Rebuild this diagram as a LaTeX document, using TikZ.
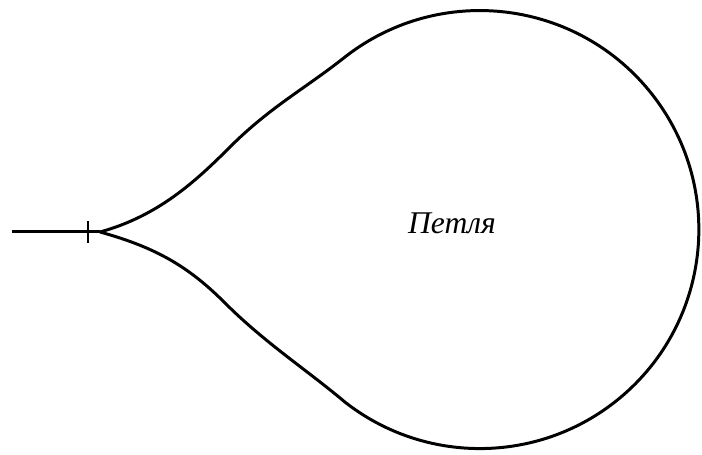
\documentclass[tikz,border=0pt]{standalone}
\usepackage{fontspec}
\setmainfont{Liberation Serif}
\begin{document}
\begin{tikzpicture}[x=0.02cm, y=0.02cm, line width=1.7pt]
  \useasboundingbox (0,0) rectangle (702,455);
  \coordinate (start) at (12,223);
  \coordinate (tip) at (100,223);
  \coordinate (up) at (230,308);
  \coordinate (upjoin) at (345,398);
  \coordinate (low) at (225,152);
  \draw (start) -- (tip);
  \draw[line width=1.2pt] (88,212) -- (88,234);
  % upper side, circle, lower side
  \draw (tip) .. controls (158,239) and (195,273) .. (up)
    .. controls (270,348) and (306,367) .. (upjoin)
    arc[start angle=128, end angle=-128, radius=219]
    coordinate (lowjoin)
    .. controls (307,85) and (265,112) .. (low)
    .. controls (190,187) and (158,207) .. (tip);
  \node[font=\fontsize{18}{21}\selectfont\itshape] (label) at (452,232) {Петля};
\end{tikzpicture}
\end{document}
